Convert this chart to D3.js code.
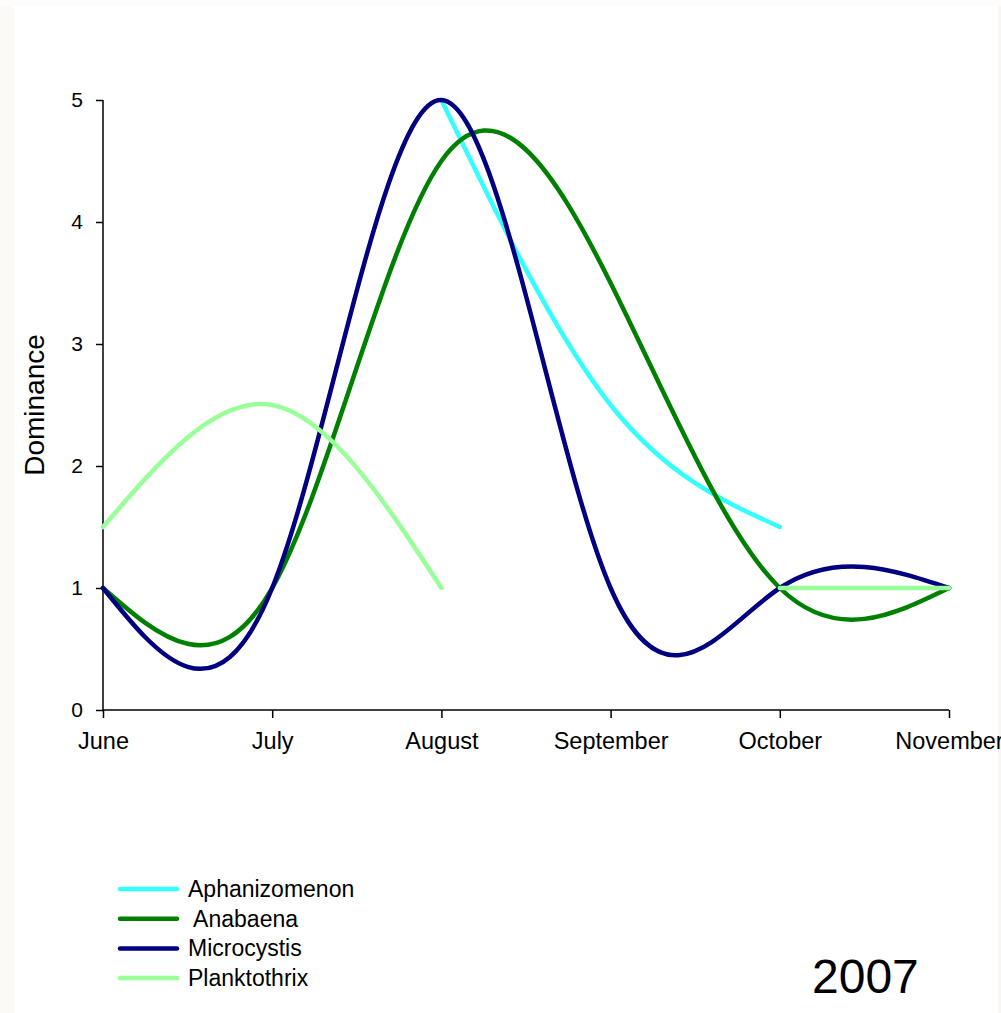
<!DOCTYPE html>
<html>
<head>
<meta charset="utf-8">
<script src="https://cdn.jsdelivr.net/npm/d3@7"></script>
<style>
  html, body { margin: 0; padding: 0; background: #ffffff; }
  svg { display: block; }
  text { font-family: "Liberation Sans", Arial, sans-serif; fill: #000; }
</style>
</head>
<body>
<svg id="chart" width="1001" height="1013"></svg>
<script>
// ---- data ----
const months = ["June", "July", "August", "September", "October", "November"];
const yTicks = [0, 1, 2, 3, 4, 5];
const seriesNames = ["Aphanizomenon", " Anabaena", "Microcystis", "Planktothrix"];
const seriesColors = ["#33FFFF", "#008000", "#000080", "#99FF99"];
const aphanizomenon = [null, null, 5, 2.5, 1.5, null];
const anabaena      = [1, 1, 4.5, 3.5, 1, 1];
const microcystis   = [1, 1, 5, 1, 1, 1];
const planktothrix  = [1.5, 2.5, 1, null, 1, 1];
const seriesValues = [aphanizomenon, anabaena, microcystis, planktothrix];
const yearLabel = "2007";
const yTitle = "Dominance";

// ---- layout ----
const svg = d3.select("#chart");
const W = 1001, H = 1013;

// faint textured page edges
svg.append("rect").attr("x", 0).attr("y", 0).attr("width", W).attr("height", H).attr("fill", "#ffffff");
svg.append("rect").attr("x", 0).attr("y", 0).attr("width", 14).attr("height", H).attr("fill", "#fbfaf7");
svg.append("rect").attr("x", 998).attr("y", 0).attr("width", 3).attr("height", H).attr("fill", "#f7f6f2");
svg.append("rect").attr("x", 0).attr("y", 0).attr("width", W).attr("height", 6).attr("fill", "#fdfcfa");

const x = d3.scalePoint().domain(months).range([103, 949]);
const y = d3.scaleLinear().domain([0, 5]).range([710, 100]);

// axes
const yAxis = svg.append("g").attr("transform", "translate(103,0)")
  .call(d3.axisLeft(y).tickValues(yTicks).tickSize(7).tickPadding(13).tickFormat(d3.format("d")));
const xAxis = svg.append("g").attr("transform", "translate(0,710)")
  .call(d3.axisBottom(x).tickSize(8).tickPadding(14));
[yAxis, xAxis].forEach(g => {
  g.select(".domain").attr("stroke", "#000").attr("stroke-width", 1.5);
  g.selectAll(".tick line").attr("stroke", "#000").attr("stroke-width", 1.5);
  g.selectAll(".tick text").style("font-family", "'Liberation Sans', Arial, sans-serif")
    .attr("fill", "#000");
});
yAxis.selectAll(".tick text").style("font-size", "21px");
xAxis.selectAll(".tick text").style("font-size", "23.5px");
xAxis.select(".domain").attr("d", "M103,0H949");
yAxis.select(".domain").attr("d", "M0,710V100");

// y title
svg.append("text")
  .attr("transform", "translate(44,405) rotate(-90)")
  .attr("text-anchor", "middle")
  .style("font-size", "28px")
  .text(yTitle);

// lines
const line = d3.line()
  .defined(d => d.v !== null)
  .x(d => x(d.m))
  .y(d => y(d.v))
  .curve(d3.curveNatural);

seriesValues.forEach((vals, i) => {
  const pts = months.map((m, j) => ({ m: m, v: vals[j] }));
  svg.append("path")
    .datum(pts)
    .attr("d", line)
    .attr("fill", "none")
    .attr("stroke", seriesColors[i])
    .attr("stroke-width", 4.5)
    .attr("stroke-linecap", "round")
    .attr("stroke-linejoin", "round");
});

// legend
const legend = svg.append("g");
seriesNames.forEach((name, i) => {
  const ly = 889 + i * 29.7;
  legend.append("line")
    .attr("x1", 120).attr("x2", 177).attr("y1", ly).attr("y2", ly)
    .attr("stroke", seriesColors[i]).attr("stroke-width", 4.5).attr("stroke-linecap", "round");
  legend.append("text")
    .attr("x", 188).attr("y", ly + 8)
    .style("font-size", "23px")
    .style("white-space", "pre")
    .attr("xml:space", "preserve")
    .text(name);
});

// year
svg.append("text")
  .attr("x", 812).attr("y", 993)
  .style("font-size", "48px")
  .text(yearLabel);
</script>
</body>
</html>
